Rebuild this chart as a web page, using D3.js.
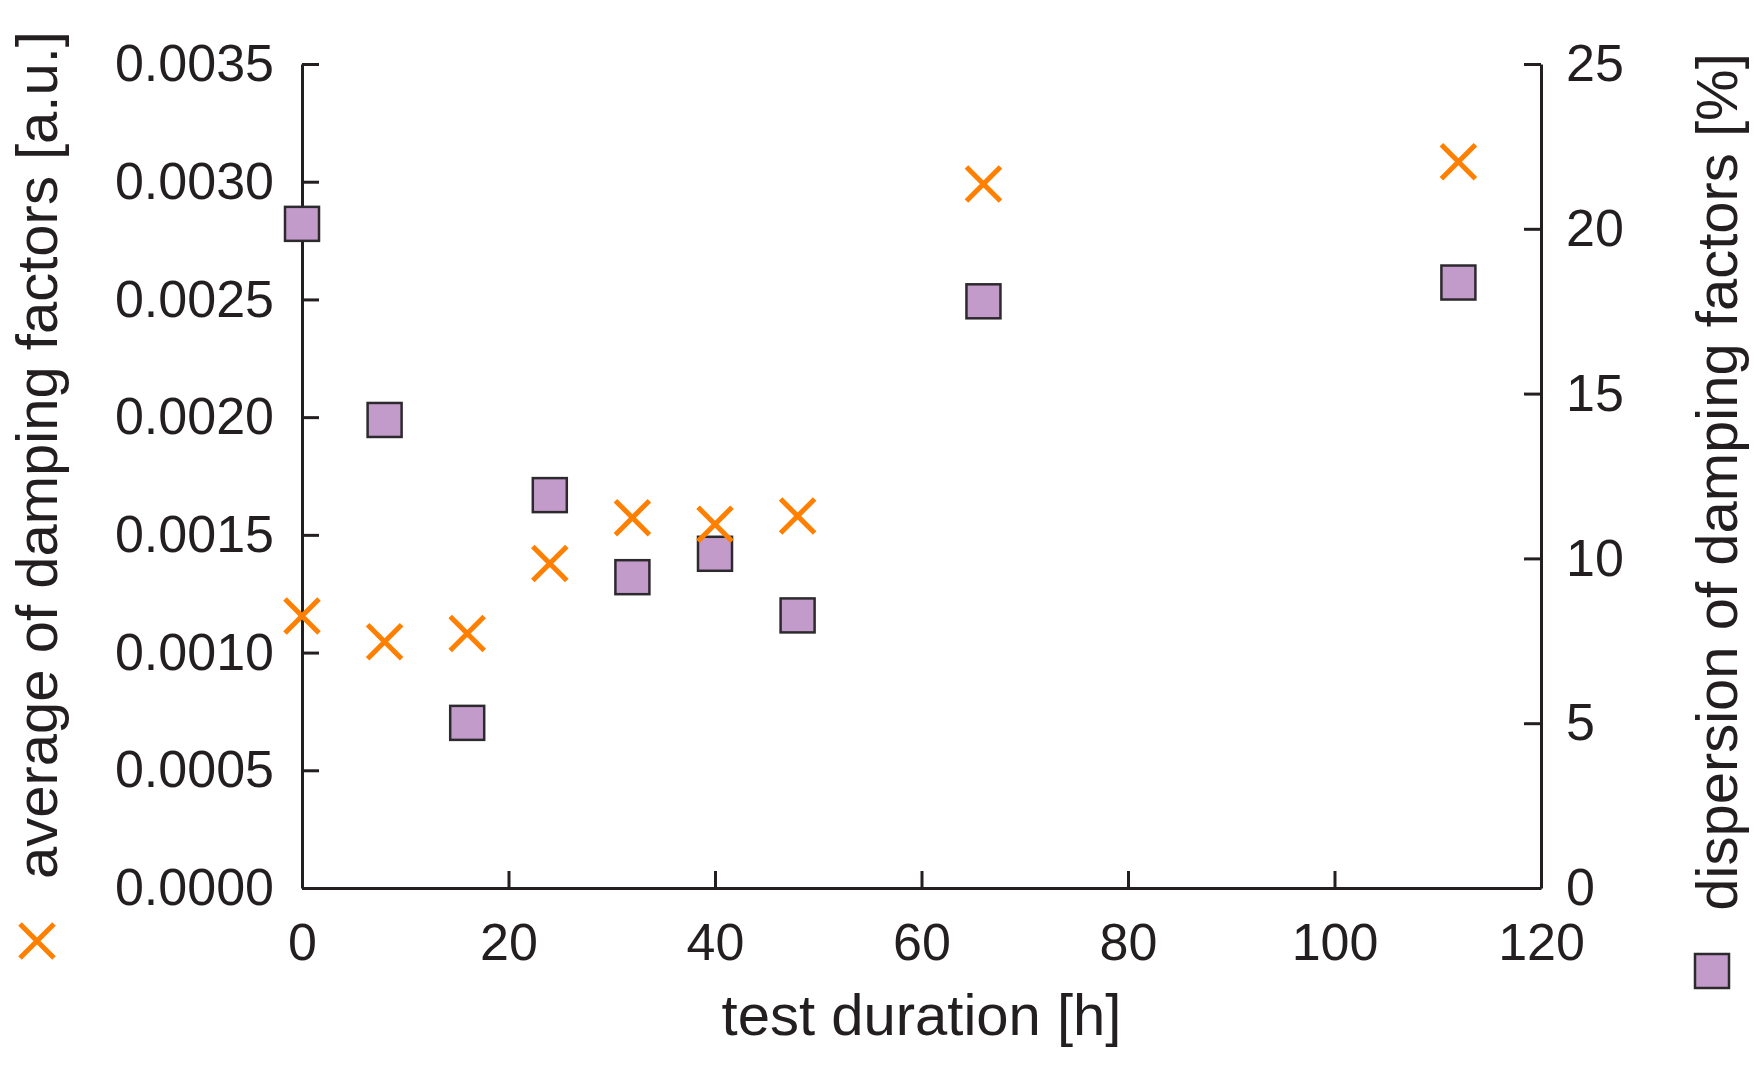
<!DOCTYPE html>
<html>
<head>
<meta charset="utf-8">
<script src="https://cdn.jsdelivr.net/npm/d3@7"></script>
<style>
  body { margin: 0; background: #fff; }
  text { font-family: "Liberation Sans", Arial, Helvetica, sans-serif; fill: #231f20; }
</style>
</head>
<body>
<svg id="chart" width="1763" height="1069"></svg>
<script>
// test duration [h]
const hours = [0, 8, 16, 24, 32, 40, 48, 66, 112];
// average of damping factors [a.u.] (left axis, crosses)
const avgDamping = [0.001155, 0.001046, 0.001081, 0.001378, 0.001573, 0.001545, 0.001580, 0.002990, 0.003085];
// dispersion of damping factors [%] (right axis, squares)
const dispersion = [20.15, 14.2, 5.01, 11.92, 9.43, 10.14, 8.27, 17.8, 18.37];

const xTicks = [0, 20, 40, 60, 80, 100, 120];
const leftTicks = [0, 0.0005, 0.001, 0.0015, 0.002, 0.0025, 0.003, 0.0035];
const rightTicks = [0, 5, 10, 15, 20, 25];

const svg = d3.select('#chart');
const ink = '#231f20';
const orange = '#ff7f00';
const purple = '#c39bcb';

const x = d3.scaleLinear().domain([0, 120]).range([302, 1541]);
const yL = d3.scaleLinear().domain([0, 0.0035]).range([888, 64]);
const yR = d3.scaleLinear().domain([0, 25]).range([888, 64]);

function styleAxis(g) {
  g.selectAll('path, line').attr('stroke', ink).attr('stroke-width', 3);
  g.selectAll('text').attr('font-size', 52).attr('fill', ink)
    .style('font-family', '"Liberation Sans", Arial, sans-serif');
}

svg.append('g')
  .attr('transform', `translate(0,${yL(0)})`)
  .call(d3.axisBottom(x).tickValues(xTicks).tickSize(-17).tickSizeOuter(0).tickPadding(35))
  .call(styleAxis);

svg.append('g')
  .attr('transform', `translate(${x(0)},0)`)
  .call(d3.axisLeft(yL).tickValues(leftTicks).tickFormat(d3.format('.4f'))
    .tickSize(-17).tickSizeOuter(0).tickPadding(28))
  .call(styleAxis);

svg.append('g')
  .attr('transform', `translate(${x(120)},0)`)
  .call(d3.axisRight(yR).tickValues(rightTicks).tickFormat(d3.format('d'))
    .tickSize(-17).tickSizeOuter(0).tickPadding(25))
  .call(styleAxis);

// cross marker
const cross = (g, s) => {
  g.append('path')
    .attr('d', `M${-s},${-s}L${s},${s}M${-s},${s}L${s},${-s}`)
    .attr('stroke', orange).attr('stroke-width', 5).attr('fill', 'none');
};
const square = (g, s) => {
  g.append('rect')
    .attr('x', -s).attr('y', -s).attr('width', 2 * s).attr('height', 2 * s)
    .attr('fill', purple).attr('stroke', '#2d2a2e').attr('stroke-width', 2.5);
};

const pts = hours.map((h, i) => ({ h, a: avgDamping[i], d: dispersion[i] }));

svg.append('g').selectAll('g')
  .data(pts).enter().append('g')
  .attr('transform', d => `translate(${x(d.h)},${yR(d.d)})`)
  .each(function () { square(d3.select(this), 17); });

svg.append('g').selectAll('g')
  .data(pts).enter().append('g')
  .attr('transform', d => `translate(${x(d.h)},${yL(d.a)})`)
  .each(function () { cross(d3.select(this), 17); });

// axis titles
svg.append('text')
  .attr('x', (x(0) + x(120)) / 2).attr('y', 1035)
  .attr('text-anchor', 'middle').attr('font-size', 58)
  .text('test duration [h]');

svg.append('text')
  .attr('transform', 'translate(57,455) rotate(-90)')
  .attr('text-anchor', 'middle').attr('font-size', 58)
  .text('average of damping factors [a.u.]');

svg.append('text')
  .attr('transform', 'translate(1737,482) rotate(-90)')
  .attr('text-anchor', 'middle').attr('font-size', 58)
  .text('dispersion of damping factors [%]');

// legend symbols beside the axis titles
cross(svg.append('g').attr('transform', 'translate(37,941)'), 17);
square(svg.append('g').attr('transform', 'translate(1712,971)'), 17);
</script>
</body>
</html>
